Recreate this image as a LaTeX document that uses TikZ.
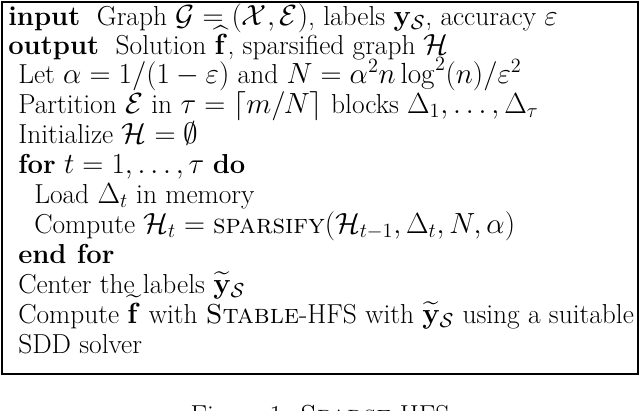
\documentclass[tikz,border=0pt]{standalone}
\usepackage{amsmath,amssymb}
\begin{document}
\begin{tikzpicture}[x=0.025cm,y=-0.025cm,
  ln/.style={anchor=base west,inner sep=0pt,font=\fontsize{19.5}{21}\selectfont}]
\useasboundingbox (0,0) rectangle (640,410);
\begin{scope}
\clip (0,0) rectangle (640,410);
\draw[line width=1.2pt] (2,2) rectangle (638,374);
\node[ln] (l1) at (8,25) {\textbf{input} \ Graph $\mathcal{G}=(\mathcal{X},\mathcal{E})$, labels $\mathbf{y}_\mathcal{S}$, accuracy $\varepsilon$};
\node[ln] (l2) at (8,54) {\textbf{output} \ Solution $\widehat{\mathbf{f}}$, sparsified graph $\mathcal{H}$};
\node[ln] (l3) at (18,83) {Let $\alpha=1/(1-\varepsilon)$ and $N=\alpha^2 n\log^2(n)/\varepsilon^2$};
\node[ln] (l4) at (18,113) {Partition $\mathcal{E}$ in $\tau=\lceil m/N\rceil$ blocks $\Delta_1,\ldots,\Delta_\tau$};
\node[ln] (l5) at (18,143) {Initialize $\mathcal{H}=\emptyset$};
\node[ln] (l6) at (18,173) {\textbf{for} $t=1,\ldots,\tau$ \textbf{do}};
\node[ln] (l7) at (34,203) {Load $\Delta_t$ in memory};
\node[ln] (l8) at (34,233) {Compute $\mathcal{H}_t=\textsc{sparsify}(\mathcal{H}_{t-1},\Delta_t,N,\alpha)$};
\node[ln] (l9) at (18,263) {\textbf{end for}};
\node[ln] (l10) at (18,293) {Center the labels $\widetilde{\mathbf{y}}_\mathcal{S}$};
\node[ln] (l11) at (18,323) {Compute $\widetilde{\mathbf{f}}$ with \textsc{Stable}-HFS with $\widetilde{\mathbf{y}}_\mathcal{S}$ using a suitable};
\node[ln] (l12) at (18,353) {SDD solver};
\node[ln,anchor=base] (cap) at (320,424) {Figure 1: \textsc{Sparse}-HFS};
\end{scope}
\end{tikzpicture}
\end{document}
